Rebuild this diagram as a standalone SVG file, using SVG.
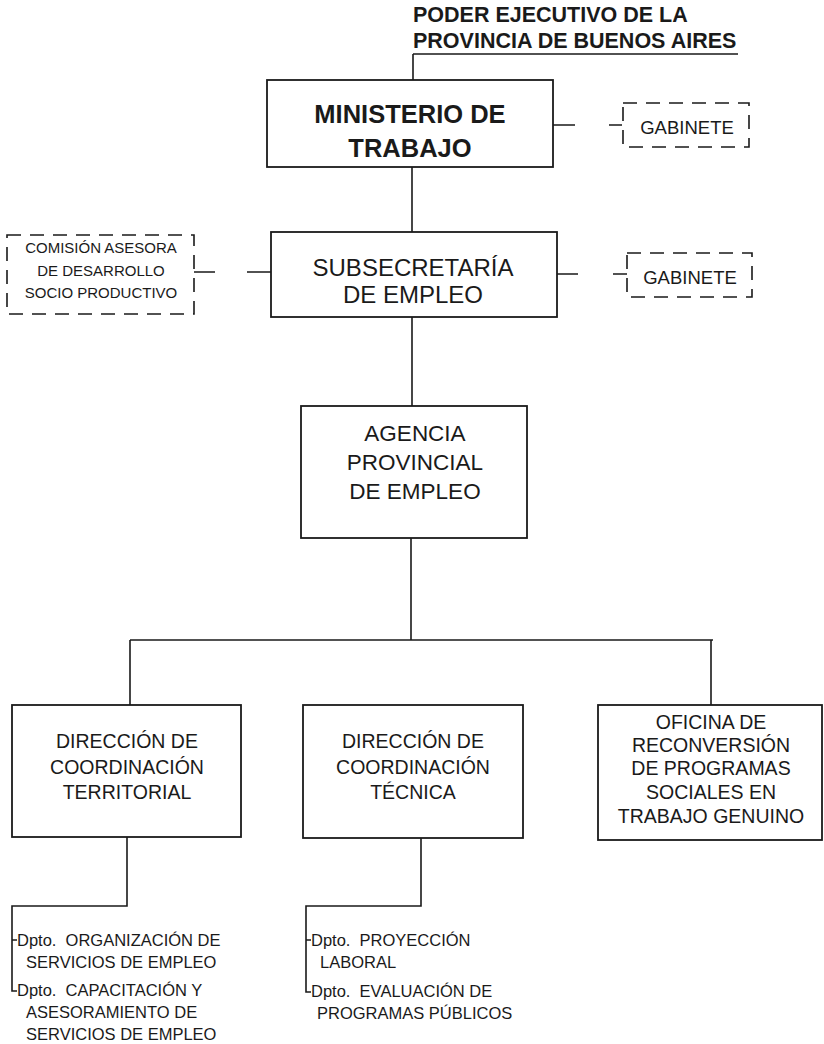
<svg xmlns="http://www.w3.org/2000/svg" width="824" height="1044" viewBox="0 0 824 1044">
<style>
text{font-family:"Liberation Sans",Arial,sans-serif;fill:#1a1a1a}
.box{fill:#fff;stroke:#1a1a1a;stroke-width:1.8}
.dbox{fill:none;stroke:#1a1a1a;stroke-width:1.6;stroke-dasharray:14 9}
.ln{fill:none;stroke:#1a1a1a;stroke-width:1.6}
.c{text-anchor:middle}
.t{font-size:21.5px;font-weight:bold}
.m{font-size:25.5px;font-weight:bold}
.s{font-size:24px}
.a{font-size:22.5px}
.d{font-size:19.5px}
.g{font-size:18.5px}
.k{font-size:15px}
.p{font-size:16.5px}
</style>
<g id="connectors">
<path class="ln" d="M413 54H738M413 54V80"/>
<path class="ln" d="M412 167V232M412 317V406M411 538V640M130 640H713M130 640V705M711 640V705"/>
<path class="ln" d="M553 125H575M609 125H622"/>
<path class="ln" d="M557 274H578M613 274H627"/>
<path class="ln" d="M194 272H215M247 272H271"/>
<path class="ln" d="M127 837V906H12V991H17M12 940H17"/>
<path class="ln" d="M421 838V906H306V992H311M306 940H311"/>
</g>
<g id="poder">
<text class="t" x="413" y="22">PODER EJECUTIVO DE LA</text>
<text class="t" x="413" y="48">PROVINCIA DE BUENOS AIRES</text>
</g>
<g id="ministerio">
<rect class="box" x="267" y="80" width="286" height="87"/>
<text class="m c" x="410" y="123">MINISTERIO DE</text>
<text class="m c" x="410" y="157">TRABAJO</text>
</g>
<g id="gabinete1">
<rect class="dbox" x="623" y="103" width="126" height="44"/>
<text class="g c" x="687" y="134">GABINETE</text>
</g>
<g id="subsecretaria">
<rect class="box" x="271" y="232" width="286" height="85"/>
<text class="s c" x="413" y="276">SUBSECRETARÍA</text>
<text class="s c" x="413" y="303">DE EMPLEO</text>
</g>
<g id="gabinete2">
<rect class="dbox" x="627" y="253" width="125" height="44"/>
<text class="g c" x="690" y="284">GABINETE</text>
</g>
<g id="comision">
<rect class="dbox" x="7" y="235" width="187" height="79"/>
<text class="k c" x="101" y="253">COMISIÓN ASESORA</text>
<text class="k c" x="101" y="276">DE DESARROLLO</text>
<text class="k c" x="101" y="298">SOCIO PRODUCTIVO</text>
</g>
<g id="agencia">
<rect class="box" x="301" y="406" width="226" height="132"/>
<text class="a c" x="415" y="441">AGENCIA</text>
<text class="a c" x="415" y="470">PROVINCIAL</text>
<text class="a c" x="415" y="499">DE EMPLEO</text>
</g>
<g id="territorial">
<rect class="box" x="12" y="705" width="229" height="132"/>
<text class="d c" x="127" y="748">DIRECCIÓN DE</text>
<text class="d c" x="127" y="774">COORDINACIÓN</text>
<text class="d c" x="127" y="799">TERRITORIAL</text>
</g>
<g id="tecnica">
<rect class="box" x="303" y="705" width="220" height="133"/>
<text class="d c" x="413" y="748">DIRECCIÓN DE</text>
<text class="d c" x="413" y="774">COORDINACIÓN</text>
<text class="d c" x="413" y="799">TÉCNICA</text>
</g>
<g id="oficina">
<rect class="box" x="598" y="705" width="224" height="135"/>
<text class="d c" x="711" y="729">OFICINA DE</text>
<text class="d c" x="711" y="752">RECONVERSIÓN</text>
<text class="d c" x="711" y="775">DE PROGRAMAS</text>
<text class="d c" x="711" y="799">SOCIALES EN</text>
<text class="d c" x="711" y="823">TRABAJO GENUINO</text>
</g>
<g id="dpto-organizacion">
<text class="p" x="17" y="946" xml:space="preserve">Dpto.  ORGANIZACIÓN DE</text>
<text class="p" x="26" y="968">SERVICIOS DE EMPLEO</text>
</g>
<g id="dpto-capacitacion">
<text class="p" x="17" y="996" xml:space="preserve">Dpto.  CAPACITACIÓN Y</text>
<text class="p" x="26" y="1018">ASESORAMIENTO DE</text>
<text class="p" x="26" y="1040">SERVICIOS DE EMPLEO</text>
</g>
<g id="dpto-proyeccion">
<text class="p" x="311" y="946" xml:space="preserve">Dpto.  PROYECCIÓN</text>
<text class="p" x="320" y="968">LABORAL</text>
</g>
<g id="dpto-evaluacion">
<text class="p" x="311" y="997" xml:space="preserve">Dpto.  EVALUACIÓN DE</text>
<text class="p" x="317" y="1019">PROGRAMAS PÚBLICOS</text>
</g>
</svg>
